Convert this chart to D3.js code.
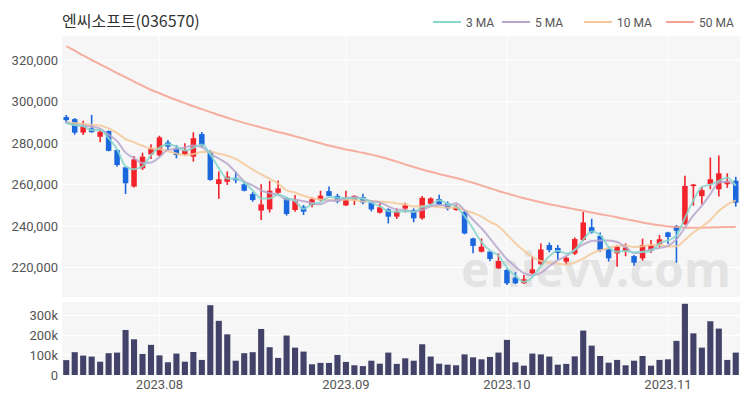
<!DOCTYPE html>
<html><head><meta charset="utf-8">
<script src="https://cdn.jsdelivr.net/npm/d3@7/dist/d3.min.js"></script>
<style>body{margin:0;background:#fff}</style>
</head><body><svg id="c" width="750" height="400"></svg>
<script>
const title = "엔씨소프트(036570)";
const dates = [
"2023-07-17","2023-07-18","2023-07-19","2023-07-20","2023-07-21","2023-07-24","2023-07-25","2023-07-26","2023-07-27","2023-07-28","2023-07-31",
"2023-08-01","2023-08-02","2023-08-03","2023-08-04","2023-08-07","2023-08-08","2023-08-09","2023-08-10","2023-08-11","2023-08-14","2023-08-16","2023-08-17","2023-08-18","2023-08-21","2023-08-22","2023-08-23","2023-08-24","2023-08-25","2023-08-28","2023-08-29","2023-08-30","2023-08-31",
"2023-09-01","2023-09-04","2023-09-05","2023-09-06","2023-09-07","2023-09-08","2023-09-11","2023-09-12","2023-09-13","2023-09-14","2023-09-15","2023-09-18","2023-09-19","2023-09-20","2023-09-21","2023-09-22","2023-09-25","2023-09-26","2023-09-27",
"2023-10-04","2023-10-05","2023-10-06","2023-10-10","2023-10-11","2023-10-12","2023-10-13","2023-10-16","2023-10-17","2023-10-18","2023-10-19","2023-10-20","2023-10-23","2023-10-24","2023-10-25","2023-10-26","2023-10-27","2023-10-30","2023-10-31",
"2023-11-01","2023-11-02","2023-11-03","2023-11-06","2023-11-07","2023-11-08","2023-11-09","2023-11-10","2023-11-13"];
const open = [292500,291500,285000,287000,283000,285800,276600,268300,259000,267800,274500,274000,280300,277400,274700,273400,284300,275800,260200,261300,263200,260100,255400,247400,248000,256000,253300,247700,249300,250100,252500,256800,254500,249900,252500,253900,251300,246400,248000,244500,248400,247700,243700,250700,253000,250900,247700,246800,234000,227600,227600,219600,218800,215100,212400,217200,221500,230800,229400,222800,226700,233200,239400,235200,228800,226800,228000,225500,224400,228000,231300,236900,240000,240900,259200,254400,260200,257700,260100,261800];
const high = [293500,292000,290700,293500,286600,286000,277000,268500,273700,275300,279400,283500,281400,279000,279900,285200,285300,276500,266300,266300,266300,261000,256500,260100,261700,261900,254000,254900,250100,254000,257000,259000,255500,257000,254800,255500,252000,251000,248500,248500,251200,248500,254500,253800,255000,251800,250400,247200,234300,234000,228000,226800,219500,217700,216400,225300,231600,232000,230800,225300,234500,246800,243500,236800,230000,230800,231600,226000,233900,233300,235700,237200,240500,264200,260300,259000,273000,274000,265400,263700];
const low = [289500,284000,283900,285000,280300,276000,268500,255400,258500,267000,272300,273500,276600,272600,273900,271000,277900,261800,253100,259800,260600,256700,251700,242900,246500,255400,245000,246900,245300,249000,252000,254400,251000,249600,250100,250500,247000,246000,241200,243400,246500,241800,243000,250000,250000,247500,247300,236000,226800,227300,223000,219300,211600,212000,212000,216800,221100,227300,223600,221500,226000,232700,236300,227600,222800,220400,225400,220800,223300,227000,229900,231300,222300,240500,249800,250300,257700,254200,258400,249300];
const close = [291000,285000,288200,285200,285400,276200,269400,260600,272100,273400,277400,282700,278200,274200,276600,282300,279000,262200,262500,263800,262000,257000,252500,250400,257000,258100,245800,252000,246900,252900,254600,254500,251800,253900,254500,251300,248000,249000,244500,246900,249900,243700,253600,253300,250300,248500,249300,236400,230400,230000,224100,223100,212400,212400,214300,219100,228700,228400,227000,224700,233700,241700,236800,228400,224400,230000,229600,222300,230800,230800,233600,234700,237700,259300,260000,257300,262500,265400,261700,251200];
const volume = [75000,115000,98000,93000,67000,110000,113000,227000,180000,106000,152000,99000,64000,108000,67000,116000,76000,352000,273000,205000,72000,110000,115000,232000,140000,86000,199000,138000,118000,54000,61000,61000,101000,66000,49000,45000,72000,57000,113000,56000,84000,72000,155000,93000,57000,52000,49000,104000,89000,79000,91000,113000,177000,64000,47000,108000,104000,93000,52000,56000,94000,224000,148000,96000,62000,76000,49000,72000,96000,47000,76000,79000,172000,359000,210000,138000,271000,234000,76000,113000];
// closes of the nine sessions before the first visible one (estimated, needed for the short moving averages)
const prevCloses = [289000,291500,290000,288500,290500,292000,289500,288000,290000];
const ma50 = [326700,324500,322200,320000,317900,315800,313700,311700,309600,307600,305600,304000,302300,300700,299200,297700,296300,294900,293500,292200,290900,289700,288600,287500,286400,285300,284300,283200,282100,281000,279900,278800,277800,276900,276100,275300,274400,273400,272300,271000,269700,268400,267200,266100,265100,264100,263100,262000,260800,259500,258200,256900,255700,254500,253400,252400,251400,250500,249700,248900,248100,247300,246500,245700,245000,244200,243300,242500,241700,241000,240300,239800,239500,239300,239200,239200,239300,239400,239500,239600];
const priceTicks = [220000,240000,260000,280000,300000,320000];
const volTicks = [0,100000,200000,300000];
const monthTicks = ["2023-08-01","2023-09-01","2023-10-04","2023-11-01"];
const monthLabels = ["2023.08","2023.09","2023.10","2023.11"];
const maNames = ["3 MA","5 MA","10 MA","50 MA"];
const maColors = ["#86d6cd","#b7a6cc","#f4c896","#f6a191"];
const upColor = "#f2232b", downColor = "#1b67de", volColor = "#43436a";

const svg = d3.select("#c");
const L = 62, R = 740, pTop = 36, pBot = 297, vTop = 302, vBot = 375;
const font = "Roboto, 'Noto Sans', sans-serif";

const x = d3.scaleBand().domain(dates).range([L, R]).paddingInner(0.35).paddingOuter(0.175);
const xv = d3.scaleBand().domain(dates).range([L, R]).paddingInner(0.28).paddingOuter(0.14);
const cx = d => x(d) + x.bandwidth() / 2;
const y = d3.scaleLinear().domain([205770, 331570]).range([pBot, pTop]);
const yv = d3.scaleLinear().domain([0, 368000]).range([vBot, vTop]);

svg.append("rect").attr("width", 750).attr("height", 400).attr("fill", "#fff");
svg.append("rect").attr("x", L).attr("y", pTop).attr("width", R - L).attr("height", pBot - pTop).attr("fill", "#f6f6f7");
svg.append("rect").attr("x", L).attr("y", vTop).attr("width", R - L).attr("height", vBot - vTop).attr("fill", "#f6f6f7");

// grid
svg.append("g").selectAll("line").data(priceTicks).join("line")
  .attr("x1", L).attr("x2", R).attr("y1", d => y(d)).attr("y2", d => y(d))
  .attr("stroke", "#fff").attr("stroke-width", 1);
svg.append("g").selectAll("line").data(volTicks.slice(1)).join("line")
  .attr("x1", L).attr("x2", R).attr("y1", d => yv(d)).attr("y2", d => yv(d))
  .attr("stroke", "#fff").attr("stroke-width", 1);
svg.append("g").selectAll("line").data(monthTicks).join("line")
  .attr("x1", d => cx(d)).attr("x2", d => cx(d)).attr("y1", pTop).attr("y2", pBot)
  .attr("stroke", "#fff").attr("stroke-width", 1);
svg.append("g").selectAll("line").data(monthTicks).join("line")
  .attr("x1", d => cx(d)).attr("x2", d => cx(d)).attr("y1", vTop).attr("y2", vBot)
  .attr("stroke", "#fff").attr("stroke-width", 1);

// watermark
svg.append("text").attr("x", 596).attr("y", 287).attr("text-anchor", "middle")
  .attr("font-family", "'Noto Sans', sans-serif").attr("font-size", 48).attr("font-weight", 700)
  .attr("fill", "#d6d6d6").attr("fill-opacity", 0.6).text("enievv.com");

// axes
const ya = svg.append("g").attr("transform", `translate(${L},0)`)
  .call(d3.axisLeft(y).tickValues(priceTicks).tickFormat(d3.format(",")).tickSize(0).tickPadding(4));
const yva = svg.append("g").attr("transform", `translate(${L},0)`)
  .call(d3.axisLeft(yv).tickValues(volTicks).tickFormat(d => d === 0 ? "0" : d3.format("~s")(d)).tickSize(0).tickPadding(4));
const xa = svg.append("g").attr("transform", `translate(0,${vBot})`)
  .call(d3.axisBottom(x).tickValues(monthTicks).tickFormat((d, i) => monthLabels[i]).tickSize(0).tickPadding(5));
[ya, yva, xa].forEach(g => {
  g.select(".domain").remove();
  g.selectAll("text").attr("font-family", font).attr("font-size", 13).attr("fill", "#555");
});

// candles
const idx = d3.range(dates.length);
const cg = svg.append("g");
cg.selectAll("line").data(idx).join("line")
  .attr("x1", i => cx(dates[i])).attr("x2", i => cx(dates[i]))
  .attr("y1", i => y(high[i])).attr("y2", i => y(low[i]))
  .attr("stroke", i => close[i] >= open[i] ? upColor : downColor).attr("stroke-width", 1.6);
cg.selectAll("rect").data(idx).join("rect")
  .attr("x", i => x(dates[i])).attr("width", x.bandwidth())
  .attr("y", i => y(Math.max(open[i], close[i])))
  .attr("height", i => Math.max(1.5, Math.abs(y(open[i]) - y(close[i]))))
  .attr("fill", i => close[i] >= open[i] ? upColor : downColor);

// volume
svg.append("g").selectAll("rect").data(idx).join("rect")
  .attr("x", i => xv(dates[i])).attr("width", xv.bandwidth())
  .attr("y", i => yv(volume[i])).attr("height", i => yv(0) - yv(volume[i]))
  .attr("fill", volColor);

// moving averages
const all = prevCloses.concat(close);
const maOf = n => idx.map(i => d3.mean(all.slice(i + prevCloses.length - n + 1, i + prevCloses.length + 1)));
const maData = [maOf(3), maOf(5), maOf(10), ma50];
const line = d3.line().x((v, i) => cx(dates[i])).y(v => y(v)).curve(d3.curveMonotoneX);
[3, 2, 1, 0].forEach(k => {
  svg.append("path").datum(maData[k]).attr("d", line).attr("fill", "none")
    .attr("stroke", maColors[k]).attr("stroke-width", 2).attr("stroke-opacity", 0.85);
});

// title
svg.append("text").attr("x", 62).attr("y", 27).attr("font-family", "'Noto Sans CJK KR', sans-serif")
  .attr("font-size", 16).attr("fill", "#333").text(title);

// legend
const legX = [433, 502, 584, 666];
const lg = svg.append("g");
maNames.forEach((n, k) => {
  lg.append("line").attr("x1", legX[k]).attr("x2", legX[k] + 28).attr("y1", 22).attr("y2", 22)
    .attr("stroke", maColors[k]).attr("stroke-width", 2);
  lg.append("text").attr("x", legX[k] + 33).attr("y", 26.5).attr("font-family", font)
    .attr("font-size", 12).attr("fill", "#555").text(n);
});
</script></body></html>
